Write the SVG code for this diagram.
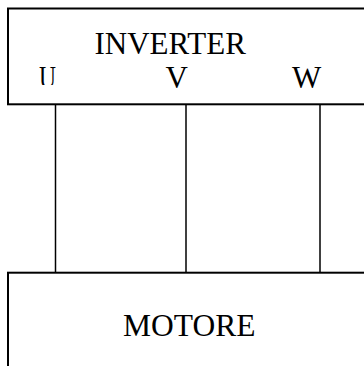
<svg xmlns="http://www.w3.org/2000/svg" width="364" height="366" viewBox="0 0 364 366">
<style>
.box{fill:#fff;stroke:#000;stroke-width:2}
.wire{stroke:#000;stroke-width:1.5;fill:none}
text{font-family:'Liberation Serif','DejaVu Serif',serif;fill:#000}
.t{font-size:31px}
.m{font-size:31.5px}
</style>
<defs>
<clipPath id="uclip"><rect x="0" y="0" width="56" height="85"/></clipPath>
</defs>
<rect width="364" height="366" fill="#fff"/>
<g id="inverter">
<rect class="box" x="8" y="8.5" width="370" height="95.8"/>
<text class="t" x="94.5" y="53.5">INVERTER</text>
<text class="t" x="39" y="88" textLength="17" lengthAdjust="spacingAndGlyphs" clip-path="url(#uclip)">U</text>
<text class="t" x="165.5" y="88">V</text>
<text class="t" x="292" y="88">W</text>
</g>
<g id="motore">
<rect class="box" x="8" y="272.7" width="370" height="110"/>
<text class="m" x="123" y="336">MOTORE</text>
</g>
<g id="connectors">
<line class="wire" x1="55.5" y1="104.3" x2="55.5" y2="272.7"/>
<line class="wire" x1="186" y1="104.3" x2="186" y2="272.7"/>
<line class="wire" x1="320" y1="104.3" x2="320" y2="272.7"/>
</g>
</svg>
